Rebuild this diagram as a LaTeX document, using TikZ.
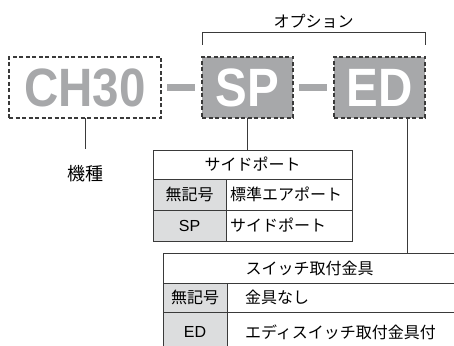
\documentclass[tikz,border=0pt]{standalone}
\usepackage{fontspec}
\setmainfont{Liberation Sans}
\newfontfamily\jpfont{Noto Sans CJK JP}
\usepackage{tikz}
\usetikzlibrary{positioning, calc}
\definecolor{partgray}{HTML}{A7A8AA}
\definecolor{cellgray}{HTML}{DCDDDE}
\definecolor{linegray}{HTML}{3A3A3A}

\begin{document}
\begin{tikzpicture}[
    x=1pt, y=1pt,
    part/.style={draw=linegray, dash pattern=on 4pt off 2.5pt, line width=1.2pt, minimum width=91pt, minimum height=61pt, inner sep=0pt, outer sep=0pt, font=\fontsize{54}{54}\selectfont\bfseries},
    hyph/.style={partgray, line width=7pt, shorten <=6pt, shorten >=7pt},
    link/.style={draw=linegray, line width=0.9pt},
    cell/.style={draw=linegray, line width=0.9pt, inner sep=0pt, outer sep=0pt, font=\fontsize{16}{16}\selectfont\jpfont},
    key/.style={cell, fill=cellgray},
    val/.style={cell, inner xsep=#1, align=left},
    jplabel/.style={font=\fontsize{#1}{#1}\selectfont\jpfont}
]
    \useasboundingbox (0,0) rectangle (454,345);
    \clip (0,0) rectangle (454,345);

    % Part number boxes
    \node[part, minimum width=152pt, text=partgray] (ch) at (85,257.5) {\scalebox{0.88}[1]{CH30}};
    \node[part, fill=partgray, text=white, right=41pt of ch] (sp) {\scalebox{0.88}[1]{SP}};
    \node[part, fill=partgray, text=white, right=41pt of sp] (ed) {\scalebox{0.88}[1]{ED}};
    \draw[hyph] (ch) -- (sp);
    \draw[hyph] (sp) -- (ed);

    % Option bracket
    \coordinate (optl) at ($(sp.north west)+(0,12)$);
    \coordinate (optr) at ($(ed.north east)+(0,12)$);
    \draw[link] (optl) -- ++(0,13) -| (optr);
    \node[jplabel=16, above=0pt] (opt) at ($(optl)!0.5!(optr)+(0,13)$) {オプション};

    % Model
    \node[jplabel=18, inner ysep=16pt, below=31pt of ch] (model) {機種};
    \draw[link] (ch.south) -- (ch.south |- model.north);

    % Side port table
    \node[cell, minimum width=199pt, minimum height=29pt, anchor=north west] (sphead) at (153,195) {サイドポート};
    \node[key, minimum width=73pt, minimum height=31pt, anchor=north west] (spkey1) at (sphead.south west) {無記号};
    \node[val=4pt, text width=118pt, minimum height=31pt, anchor=north west] (spval1) at (spkey1.north east) {標準エアポート};
    \node[key, minimum width=73pt, minimum height=31pt, anchor=north west] (spkey2) at (spkey1.south west) {\rmfamily SP};
    \node[val=4pt, text width=118pt, minimum height=31pt, anchor=north west] (spval2) at (spkey2.north east) {サイドポート};
    \draw[link] (sp.south) -- (sp.south |- sphead.north);

    % Switch bracket table
    \node[cell, minimum width=293pt, minimum height=30pt, anchor=north west] (edhead) at (163,92) {スイッチ取付金具};
    \node[key, minimum width=64pt, minimum height=29pt, anchor=north west] (edkey1) at (edhead.south west) {無記号};
    \node[val=18pt, text width=193pt, minimum height=29pt, anchor=north west] (edval1) at (edkey1.north east) {金具なし};
    \node[key, minimum width=64pt, minimum height=40pt, anchor=north west] (edkey2) at (edkey1.south west) {\rmfamily ED};
    \node[val=18pt, text width=193pt, minimum height=40pt, anchor=north west] (edval2) at (edkey2.north east) {エディスイッチ取付金具付};
    \coordinate (edtap) at ($(ed.south east)+(-18,0)$);
    \draw[link] (edtap) -- (edtap |- edhead.north);
\end{tikzpicture}
\end{document}
